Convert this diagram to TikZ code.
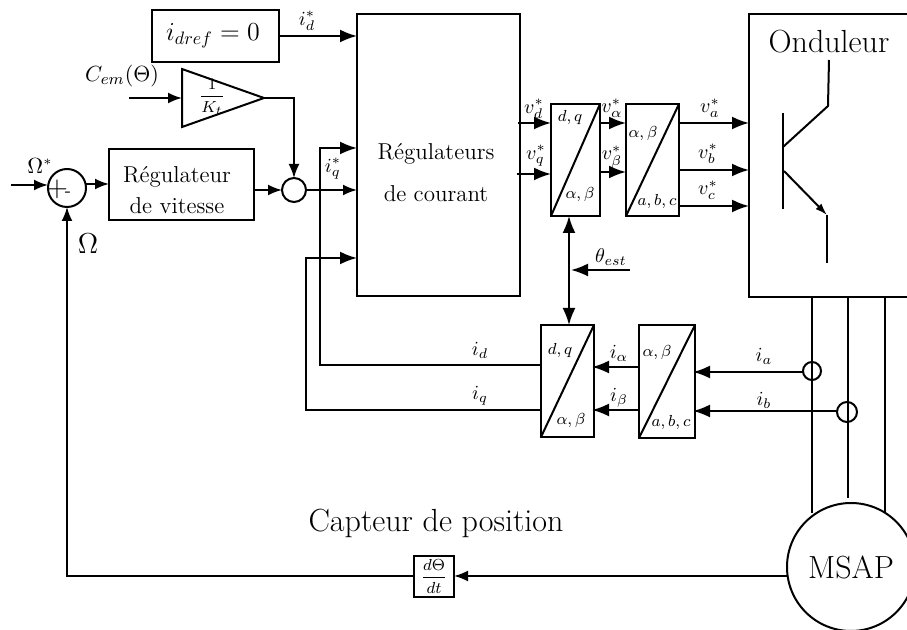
\documentclass[tikz,border=0pt]{standalone}
\usepackage{amsmath,amssymb}
\usepackage{tikz}
\usetikzlibrary{positioning,arrows.meta,calc,fit}
\newcommand{\lab}[1]{\fontsize{10}{12}\selectfont$#1$}
\newcommand{\biglab}{\fontsize{16}{19}\selectfont}
\tikzset{
    blockbox/.style={draw,inner sep=0pt,outer sep=0pt},
    ringbox/.style={draw,circle,inner sep=0pt,outer sep=0pt},
    sig/.style={-{Latex[length=7pt,width=5.5pt]}},
    sigbig/.style={-{Latex[length=8.5pt,width=6.5pt]}},
    txt/.style={inner sep=0pt,outer sep=0pt}
}
\begin{document}
\begin{tikzpicture}[x=0.5pt,y=-0.5pt,line width=1pt]
        \useasboundingbox (0,0) rectangle (907,630);
        % blocs
        \node[blockbox,fit={(152,10) (279,62)}] (dref) {};
        \node[txt,scale=0.9] (dreftxt) at (213,36) {\fontsize{14}{16}\selectfont$i_{dref}=0$};
        \node[blockbox,fit={(109,149) (254,220)}] (regvit) {};
        \node[txt,align=center,font=\fontsize{11.5}{15.5}\selectfont] (regvittxt) at (177,190) {R\'egulateur\\de vitesse};
        \node[blockbox,fit={(357,14) (520,296)}] (regcour) {};
        \node[txt,align=center,font=\fontsize{11.5}{21}\selectfont] (regcourtxt) at (436,173) {R\'egulateurs\\de courant};
        \node[blockbox,fit={(749,14) (920,297)}] (ond) {};
        \node[txt,font=\biglab] (ondtxt) at (829,42) {Onduleur};
        \node[blockbox,fit={(414,556) (454,597)}] (deriv) {};
        \node[txt] (derivtxt) at (deriv.center) {\fontsize{8.5}{10}\selectfont$\dfrac{d\Theta}{dt}$};
        \node[ringbox,minimum size=19pt] (sum) at (67,188) {};
        \node[ringbox,minimum size=12pt] (add) at (294,190) {};
        \node[ringbox,minimum size=9pt] (ca) at (812,371) {};
        \node[ringbox,minimum size=10pt] (cb) at (847,412) {};
        \node[ringbox,minimum size=64pt,font=\biglab] (msap) at (851,567) {MSAP};
        \node[txt,font=\biglab] (capteur) at (436,523) {Capteur de position};
        % transformations
        \foreach \nm/\xa/\ya/\xb/\yb in {dqh/551/104/600/216,abch/626/104/679/216,dqb/541/325/594/437,abcb/639/325/695/438}{
            \node[blockbox,fit={(\xa,\ya) (\xb,\yb)}] (\nm) {};
            \draw (\nm.south west) -- (\nm.north east);
        }
        \foreach \nm/\px/\py/\t in {t1/570/118/{d,q},t2/580/195/{\alpha,\beta},t3/643/134/{\alpha,\beta},t4/657/202/{a,b,c},t5/560/351/{d,q},t6/571/421/{\alpha,\beta},t7/657/353/{\alpha,\beta},t8/671/423/{a,b,c}}{
            \node[txt] (\nm) at (\px,\py) {\fontsize{8.5}{10}\selectfont$\t$};
        }
        % gain
        \coordinate (gw) at (182,98);
        \coordinate (ge) at (264,98);
        \draw (182,69) -- (ge) -- (182,127) -- cycle;
        \node[txt] (gain) at (212,97) {\fontsize{8.5}{10}\selectfont$\dfrac{1}{K_t}$};
        % signaux
        \coordinate (cem) at (129,98);
        \coordinate (om) at (11,185);
        \draw[sig] (cem) -- (gw);
        \draw[sig] (ge) -| (add.north);
        \draw[sig] (om) -- (om -| sum.west);
        \draw[sig] (sum.east |- 0,184) -- (regvit.west |- 0,184);
        \draw[sig] (regvit.east |- add) -- (add.west);
        \draw[sig] (add.east) -- (regcour.west |- add);
        \draw[sigbig] (dref.east |- 0,36) -- (regcour.west |- 0,36);
        \foreach \xp/\yh/\yl in {320/148/365,306/258/410}{
            \draw[sigbig] (dqb.west |- 0,\yl) -| (\xp,\yh) -- (regcour.west |- 0,\yh);
        }
        \foreach \xs/\yp in {518/123,517/174}{
            \draw[sigbig] (\xs,\yp) -- (dqh.west |- 0,\yp);
        }
        \draw[sigbig] (dqh.east |- 0,123) -- (abch.west |- 0,123);
        \draw[sigbig] (dqh.east |- 0,172) -- (abch.west |- 0,172);
        \foreach \yp in {123,170,206}{
            \draw[sigbig] (abch.east |- 0,\yp) -- (ond.west |- 0,\yp);
        }
        \coordinate (thv) at (569,216);
        \draw[{Latex[length=8.5pt,width=6.5pt]}-{Latex[length=8.5pt,width=6.5pt]}] (thv) -- (thv |- dqb.north);
        \coordinate (the) at (630,270);
        \draw[sigbig] (the) -- (571,270);
        \draw[sigbig] (abcb.west |- 0,367) -- (592,367);
        \draw[sigbig] (abcb.west |- 0,410) -- (592,410);
        \draw[sigbig] (ca.west |- 0,372) -- (693,372);
        \draw[sigbig] (cb.west |- 0,411) -- (693,411);
        \foreach \xp/\yp in {812/513,848/498,885/512}{
            \draw (\xp,297) -- (\xp,\yp);
        }
        \draw[sig] (msap.west |- 0,576) -- (deriv.east |- 0,576);
        \draw[sig] (deriv.west |- 0,576) -| (sum.south);
        % transistor
        \draw (783,113) -- (783,209);
        \draw (783,147) -- (828,106) -- (829,60);
        \coordinate (emit) at (827,215);
        \draw[-{Latex[length=6pt,width=4pt]}] (784,171) -- (emit);
        \draw (emit) -- (827,263);
        % textes
        \node[txt] (lc) at (122,76) {\fontsize{10.8}{13}\selectfont$C_{em}(\Theta)$};
        \node[txt] (lom) at (40,166) {\fontsize{10.5}{12}\selectfont$\Omega^{*}$};
        \node[txt] (lomf) at (88,244) {\fontsize{14}{16}\selectfont$\Omega$};
        \node[txt] (lplus) at (57,189) {\fontsize{14}{16}\selectfont$+$};
        \node[txt] (lmoins) at (68,194) {\fontsize{9}{11}\selectfont-};
        \foreach \nm/\px/\py/\t in {l1/307/21/{i_d^*},l2/333/169/{i_q^*},l3/534/109/{v_d^*},l4/536/156/{v_q^*},l5/612/108/{v_\alpha^*},l6/612/157/{v_\beta^*},l7/710/108/{v_a^*},l8/708/154/{v_b^*},l9/708/190/{v_c^*},l10/611/257/{\theta_{est}},l11/480/350/{i_d},l12/480/396/{i_q},l13/619/353/{i_\alpha},l14/619/398/{i_\beta},l15/764/356/{i_a},l16/764/400/{i_b}}{
            \node[txt] (\nm) at (\px,\py) {\lab{\t}};
        }
\end{tikzpicture}
\end{document}
